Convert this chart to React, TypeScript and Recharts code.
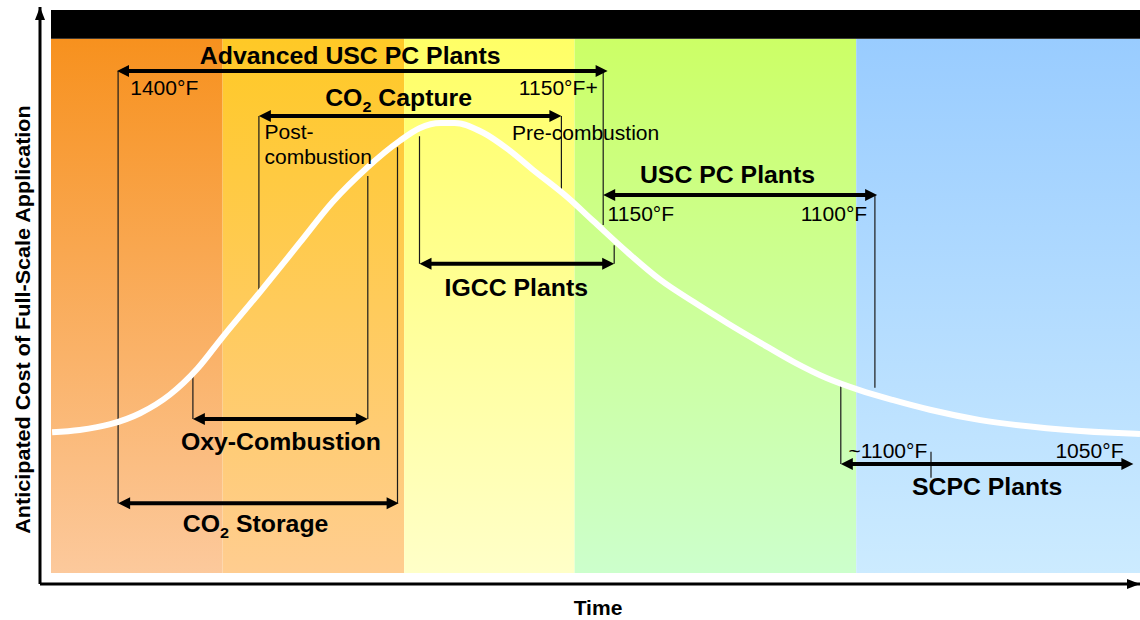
import React from 'react';
import {
  ComposedChart,
  Line,
  XAxis,
  YAxis,
  ReferenceArea,
  ReferenceLine,
  ReferenceDot,
} from 'recharts';

// Time and anticipated cost are both read on a 0-100 scale along the axes
const curveTime = [1.1, 3.6, 6.4, 9.1, 11.8, 14.3, 16.6, 20.0, 23.6, 26.6, 29.7, 32.7, 34.5, 36.4, 37.7, 40.3, 42.5, 44.8, 47.9, 50.3, 53.4, 56.4, 59.4, 62.5, 65.5, 68.5, 71.5, 74.5, 77.5, 80.9, 85.5, 91.5, 97.5, 100];
const curveCost = [26.3, 26.7, 27.7, 29.6, 32.8, 37.3, 42.8, 50.6, 59.1, 66.2, 72.1, 76.8, 79.0, 79.9, 79.9, 78.2, 75.4, 71.8, 67.1, 62.9, 57.5, 52.7, 48.9, 45.2, 41.8, 38.5, 35.7, 33.6, 31.9, 30.2, 28.4, 27.0, 26.2, 26.0];

// coloured periods behind the curve
const bandStart = [1.0, 16.6, 33.1, 48.6, 74.2];
const bandEnd = [16.6, 33.1, 48.6, 74.2, 100];
const bandFloor = 1.9;
const bandCeil = 94.5;
const headerTop = 99.5;
const bandTop = ['#F7911E', '#FFC926', '#FFFF66', '#CCFF66', '#99CCFF'];
const bandBottom = ['#FCC99C', '#FFCD90', '#FFFFC8', '#CCFFCC', '#CCEBFF'];

// technology spans (double arrows)
const spanName = ['Advanced USC PC Plants', 'CO₂ Capture', 'USC PC Plants', 'IGCC Plants', 'Oxy-Combustion', 'CO₂ Storage', 'SCPC Plants'];
const spanFrom = [7.0, 19.9, 51.2, 34.5, 13.9, 7.1, 72.8];
const spanTo = [51.6, 47.4, 76.1, 52.2, 29.8, 32.6, 99.4];
const spanLevel = [88.9, 81.1, 67.4, 55.5, 28.6, 14.0, 20.8];
const nameTime = [28.2, 32.6, 62.5, 43.3, 21.9, 19.6, 86.1];
const nameLevel = [90.1, 82.8, 69.5, 49.9, 23.2, 9.0, 15.4];

// small notes next to the arrows
const noteText = ['1400°F', '1150°F+', 'Post-', 'combustion', 'Pre-combustion', '1150°F', '1100°F', '~1100°F', '1050°F'];
const noteTime = [8.2, 50.7, 20.4, 20.4, 42.9, 51.6, 75.2, 73.5, 98.5];
const noteLevel = [84.7, 84.7, 77.1, 72.8, 77.0, 62.9, 62.9, 21.8, 21.8];
const noteAlign = ['start', 'end', 'start', 'start', 'start', 'start', 'end', 'start', 'end'];

// thin drop lines
const dropTime = [7.1, 51.2, 19.9, 47.4, 13.9, 29.8, 32.5, 34.5, 52.2, 75.9, 72.8, 81.0];
const dropHigh = [88.9, 88.9, 81.1, 81.1, 36.7, 70.7, 75.7, 77.6, 58.7, 67.4, 34.7, 22.9];
const dropLow = [14.0, 62.2, 50.4, 68.3, 28.6, 28.6, 14.0, 55.5, 55.5, 34.0, 20.8, 18.4];

const curve = curveTime.map((t, i) => ({ t, c: curveCost[i] }));

const FONT = "'Liberation Sans', Arial, sans-serif";

const Caption = ({ cx, cy, text, bold, anchor }: any) => {
  const size = bold ? 23 : 19.5;
  const parts = text.split('₂');
  return (
    <text
      transform={`translate(${cx},${cy}) scale(1.08,1)`}
      textAnchor={anchor}
      fontFamily={FONT}
      fontWeight={bold ? 700 : 400}
      fontSize={size}
      fill="#000"
    >
      {parts.length > 1 ? (
        <>
          {parts[0]}
          <tspan fontSize={15} dy={6}>2</tspan>
          <tspan dy={-6}>{parts[1]}</tspan>
        </>
      ) : (
        text
      )}
    </text>
  );
};

const DoubleArrow = (p: any) => {
  const { x1, y1, x2, y2 } = p;
  const h = 12;
  const w = 6;
  return (
    <g>
      <line x1={x1 + h - 1} y1={y1} x2={x2 - h + 1} y2={y2} stroke="#000" strokeWidth={4} />
      <polygon points={`${x1},${y1} ${x1 + h},${y1 - w} ${x1 + h},${y1 + w}`} fill="#000" />
      <polygon points={`${x2},${y2} ${x2 - h},${y2 - w} ${x2 - h},${y2 + w}`} fill="#000" />
    </g>
  );
};

const YTitle = (props: any) => {
  const vb = props.viewBox || { x: 0, y: 7, width: 40, height: 577 };
  const x = vb.x + 30;
  const y = vb.y + vb.height / 2 + 24;
  return (
    <text
      transform={`translate(${x},${y}) rotate(-90) scale(1.08,1)`}
      textAnchor="middle"
      fontFamily={FONT}
      fontWeight={700}
      fontSize={20}
      fill="#000"
    >
      Anticipated Cost of Full-Scale Application
    </text>
  );
};

const XTitle = (props: any) => {
  const vb = props.viewBox || { x: 40, y: 584, width: 1100, height: 36 };
  const x = vb.x + vb.width / 2 + 8;
  const y = vb.y + 31;
  return (
    <text
      transform={`translate(${x},${y}) scale(1.08,1)`}
      textAnchor="middle"
      fontFamily={FONT}
      fontWeight={700}
      fontSize={19.5}
      fill="#000"
    >
      Time
    </text>
  );
};

export default function App() {
  return (
    <div>
      <style>{'body{margin:0}'}</style>
      <ComposedChart width={1140} height={620} data={curve} margin={{ top: 7, right: 0, left: 0, bottom: 0 }}>
        <defs>
          <marker
            id="axisHead"
            viewBox="0 0 13 10"
            refX="13"
            refY="5"
            markerWidth="13"
            markerHeight="10"
            markerUnits="userSpaceOnUse"
            orient="auto-start-reverse"
          >
            <path d="M0,0 L13,5 L0,10 z" fill="#000" />
          </marker>
          {bandTop.map((col, i) => (
            <linearGradient key={i} id={`band${i}`} x1="0" y1="0" x2="0" y2="1">
              <stop offset="0%" stopColor={col} />
              <stop offset="100%" stopColor={bandBottom[i]} />
            </linearGradient>
          ))}
        </defs>
        <XAxis
          type="number"
          dataKey="t"
          domain={[0, 100]}
          height={36}
          tick={false}
          tickLine={false}
          axisLine={{ stroke: '#000', strokeWidth: 3, markerEnd: 'url(#axisHead)' }}
          label={XTitle}
        />
        <YAxis
          type="number"
          domain={[0, 100]}
          width={40}
          tick={false}
          tickLine={false}
          axisLine={{ stroke: '#000', strokeWidth: 3, markerStart: 'url(#axisHead)' }}
          label={YTitle}
        />
        {bandStart.map((s, i) => (
          <ReferenceArea
            key={`b${i}`}
            x1={s}
            x2={bandEnd[i]}
            y1={bandFloor}
            y2={bandCeil}
            fill={`url(#band${i})`}
            fillOpacity={1}
            stroke="none"
          />
        ))}
        <ReferenceArea
          x1={bandStart[0]}
          x2={100}
          y1={bandCeil}
          y2={headerTop}
          fill="#000"
          fillOpacity={1}
          stroke="none"
        />
        {dropTime.map((t, i) => (
          <ReferenceLine
            key={`d${i}`}
            segment={[{ x: t, y: dropHigh[i] }, { x: t, y: dropLow[i] }]}
            stroke="#1a1a1a"
            strokeWidth={1.2}
          />
        ))}
        <Line
          type="monotone"
          dataKey="c"
          stroke="#fff"
          strokeWidth={6}
          dot={false}
          activeDot={false}
          isAnimationActive={false}
          zIndex={450}
        />
        {spanFrom.map((f, i) => (
          <ReferenceLine
            key={`s${i}`}
            segment={[{ x: f, y: spanLevel[i] }, { x: spanTo[i], y: spanLevel[i] }]}
            shape={DoubleArrow}
            zIndex={460}
          />
        ))}
        {spanName.map((n, i) => (
          <ReferenceDot
            key={`n${i}`}
            x={nameTime[i]}
            y={nameLevel[i]}
            r={0}
            shape={(p: any) => <Caption cx={p.cx} cy={p.cy} text={n} bold anchor="middle" />}
          />
        ))}
        {noteText.map((n, i) => (
          <ReferenceDot
            key={`t${i}`}
            x={noteTime[i]}
            y={noteLevel[i]}
            r={0}
            shape={(p: any) => <Caption cx={p.cx} cy={p.cy} text={n} anchor={noteAlign[i]} />}
          />
        ))}
      </ComposedChart>
    </div>
  );
}
